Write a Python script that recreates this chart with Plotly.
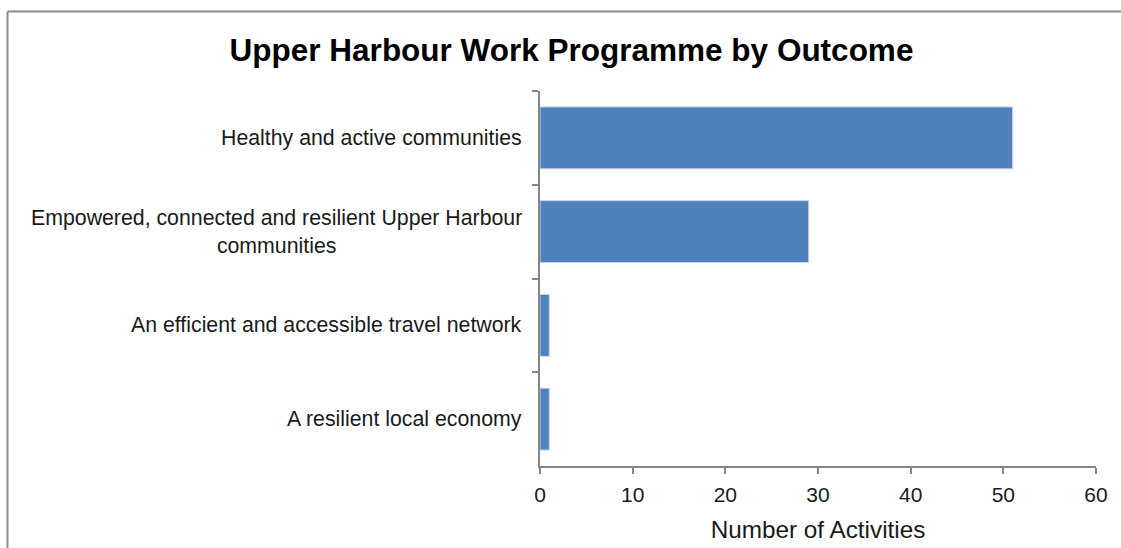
import plotly.graph_objects as go

# Work programme activities per outcome (top to bottom)
outcomes = [
    "Healthy and active communities",
    "Empowered, connected and resilient Upper Harbour<br>communities",
    "An efficient and accessible travel network",
    "A resilient local economy",
]
activities = [51, 29, 1, 1]
x_ticks = [0, 10, 20, 30, 40, 50, 60]

FONT = "Liberation Sans, Arial, sans-serif"
AXIS_GREY = "#868686"
TEXT = "#1a1a1a"

fig = go.Figure(
    go.Bar(
        x=activities,
        y=outcomes,
        orientation="h",
        marker=dict(color="#4F81BD", line=dict(color="#c5d5ea", width=1)),
        hoverinfo="x+y",
    )
)

# Category labels: centred multi-line text, right edge next to the axis
for name in outcomes:
    fig.add_annotation(
        x=0, xref="paper", xanchor="right", xshift=-16,
        y=name, yref="y", yanchor="middle",
        text=name, showarrow=False, align="center",
        font=dict(family=FONT, size=21.3, color=TEXT),
    )

# Chart-area frame (left and top edges)
fig.add_shape(type="line", xref="paper", yref="paper",
              x0=-0.9577, x1=-0.9577, y0=-0.25, y1=1.212,
              line=dict(color="#8c8c8c", width=2))
fig.add_shape(type="line", xref="paper", yref="paper",
              x0=-0.9577, x1=1.06, y0=1.212, y1=1.212,
              line=dict(color="#8c8c8c", width=2))

fig.update_layout(
    width=1121, height=548,
    margin=dict(l=540, r=25, t=91, b=82),
    paper_bgcolor="white", plot_bgcolor="white",
    bargap=0.34,
    showlegend=False,
    title=dict(
        text="<b>Upper Harbour Work Programme by Outcome</b>",
        x=571.5 / 1121, xanchor="center", xref="container",
        y=1 - 50 / 548, yanchor="middle", yref="container",
        font=dict(family=FONT, size=31.5, color="#000000"),
    ),
    font=dict(family=FONT, color=TEXT),
)

fig.update_xaxes(
    range=[0, 60], tickvals=x_ticks, ticks="outside", ticklen=6, tickwidth=2,
    tickcolor=AXIS_GREY, showline=True, linecolor=AXIS_GREY, linewidth=2,
    showgrid=False, zeroline=False, ticklabelstandoff=3, automargin=False,
    tickfont=dict(family=FONT, size=21, color=TEXT),
    title=dict(text="Number of Activities", standoff=16,
               font=dict(family=FONT, size=24.3, color=TEXT)),
)
fig.update_yaxes(
    autorange="reversed", showticklabels=False, ticks="outside",
    tickson="boundaries", ticklen=6, tickwidth=2, tickcolor=AXIS_GREY,
    showline=True, linecolor=AXIS_GREY, linewidth=2, showgrid=False,
    zeroline=False, automargin=False,
)

fig.write_html("out.html")
